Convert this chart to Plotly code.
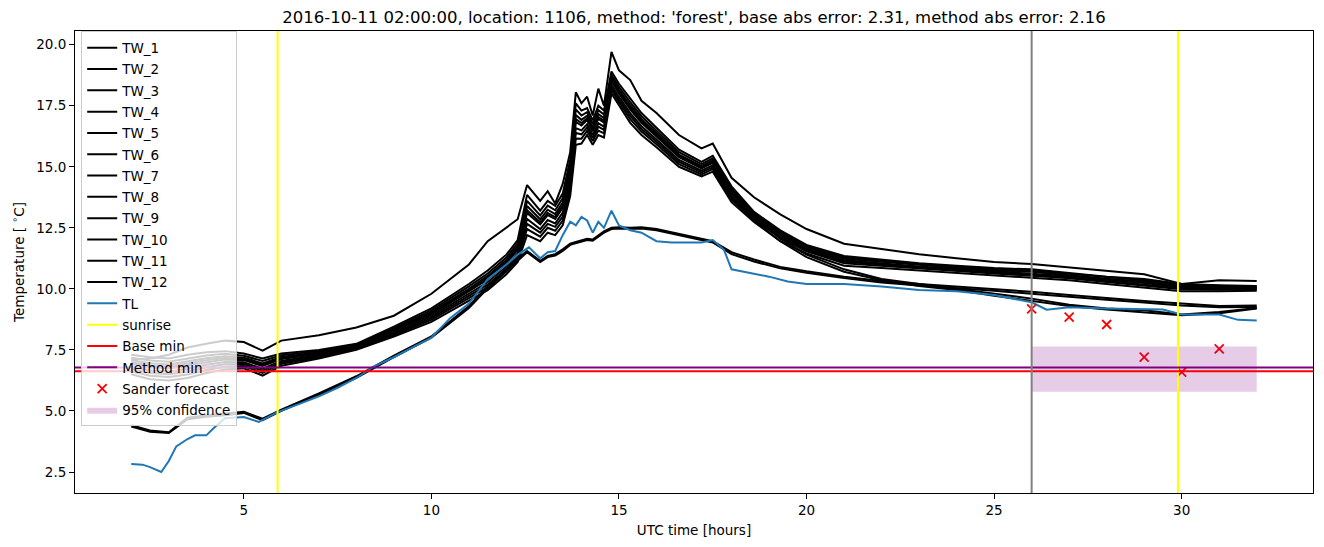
import plotly.graph_objects as go

# ---------------- data ----------------
hours = [2.0, 2.5, 3.0, 3.5, 4.0, 4.5, 5.0, 5.5, 6.0, 7.0, 8.0, 9.0, 10.0, 11.0, 11.5, 12.0,
         12.3, 12.55, 12.9, 13.1, 13.3, 13.5, 13.7, 13.85, 14.0, 14.15, 14.3, 14.45, 14.6,
         14.8, 15.0, 15.3, 15.6, 16.0, 16.6, 17.2, 17.5, 18.0, 18.6, 19.3, 20.0, 21.0, 22.0,
         23.0, 24.0, 25.0, 26.0, 27.0, 28.0, 29.0, 30.0, 31.0, 32.0]

tw_1 = [7.08, 6.95, 6.9, 7.03, 7.16, 7.24, 7.18, 6.95, 7.21, 7.4, 7.68, 8.34, 9.05, 10.0, 10.53, 11.18,
        11.75, 13.39, 12.85, 13.24, 13.06, 13.54, 14.88, 17.12, 16.92, 17.09, 16.62, 17.16, 16.99,
        18.65, 18.15, 17.52, 16.95, 16.38, 15.5, 15.03, 15.27, 14.02, 13.04, 12.27, 11.7, 11.23, 11.1,
        10.96, 10.86, 10.76, 10.7, 10.56, 10.41, 10.3, 10.11, 10.08, 10.06]
tw_2 = [6.82, 6.66, 6.61, 6.73, 6.89, 7.0, 6.99, 6.73, 7.05, 7.29, 7.6, 8.21, 8.87, 9.78, 10.27, 10.92,
        11.46, 12.86, 12.45, 12.82, 12.68, 13.12, 14.4, 16.58, 16.49, 16.74, 16.3, 16.78, 16.64,
        18.36, 17.86, 17.2, 16.66, 16.12, 15.28, 14.84, 15.06, 13.81, 12.9, 12.13, 11.59, 11.11, 10.99,
        10.87, 10.77, 10.67, 10.59, 10.47, 10.32, 10.19, 10.02, 10.0, 10.0]
tw_3 = [7.1, 7.15, 7.3, 7.6, 7.75, 7.88, 7.82, 7.47, 7.88, 8.1, 8.42, 8.9, 9.8, 11.0, 11.95, 12.5,
        12.85, 14.25, 13.6, 14.0, 13.5, 14.3, 15.6, 18.05, 17.6, 17.87, 17.1, 18.2, 17.5,
        19.7, 18.95, 18.55, 17.7, 17.2, 16.3, 15.75, 15.95, 14.55, 13.75, 13.05, 12.45, 11.85, 11.62,
        11.42, 11.25, 11.1, 11.02, 10.88, 10.74, 10.6, 10.2, 10.35, 10.32]
tw_4 = [7.3, 7.2, 7.15, 7.3, 7.4, 7.45, 7.35, 7.15, 7.35, 7.5, 7.75, 8.45, 9.2, 10.2, 10.75, 11.4,
        12.0, 13.85, 13.2, 13.6, 13.4, 13.9, 15.3, 17.6, 17.3, 17.4, 16.9, 17.5, 17.3,
        18.9, 18.4, 17.8, 17.2, 16.6, 15.7, 15.2, 15.45, 14.2, 13.15, 12.4, 11.8, 11.35, 11.2,
        11.05, 10.95, 10.85, 10.8, 10.65, 10.5, 10.4, 10.2, 10.15, 10.12]
tw_5 = [4.42, 4.2, 4.13, 4.72, 4.82, 4.88, 4.97, 4.68, 5.05, 5.72, 6.42, 7.27, 8.05, 9.3, 10.1, 10.8,
        11.25, 11.55, 11.15, 11.35, 11.42, 11.62, 11.85, 11.92, 12.0, 12.05, 12.02, 12.2, 12.35,
        12.5, 12.52, 12.5, 12.52, 12.45, 12.25, 12.02, 11.95, 11.5, 11.2, 10.9, 10.72, 10.5, 10.32,
        10.2, 10.1, 9.98, 9.88, 9.75, 9.62, 9.5, 9.4, 9.3, 9.32]
tw_6 = [7.18, 7.07, 7.02, 7.16, 7.27, 7.34, 7.26, 7.05, 7.28, 7.45, 7.71, 8.39, 9.12, 10.1, 10.63, 11.28,
        11.87, 13.6, 13.01, 13.41, 13.22, 13.71, 15.08, 17.35, 17.1, 17.24, 16.75, 17.32, 17.14,
        18.77, 18.27, 17.65, 17.07, 16.48, 15.6, 15.11, 15.35, 14.1, 13.09, 12.33, 11.75, 11.29, 11.15,
        11.01, 10.91, 10.81, 10.75, 10.61, 10.46, 10.35, 10.16, 10.11, 10.09]
tw_7 = [7.0, 6.86, 6.81, 6.94, 7.08, 7.17, 7.12, 6.88, 7.16, 7.37, 7.66, 8.3, 8.99, 9.93, 10.45, 11.1,
        11.66, 13.22, 12.73, 13.11, 12.94, 13.41, 14.73, 16.95, 16.79, 16.98, 16.52, 17.04, 16.88,
        18.56, 18.06, 17.42, 16.86, 16.3, 15.43, 14.97, 15.2, 13.95, 12.99, 12.05, 11.4, 10.8, 10.4,
        10.2, 10.0, 9.8, 9.6, 9.35, 9.2, 9.12, 8.95, 9.05, 9.22]
tw_8 = [6.94, 6.8, 6.75, 6.87, 7.02, 7.11, 7.08, 6.84, 7.13, 7.34, 7.64, 8.27, 8.95, 9.89, 10.39, 11.04,
        11.6, 13.11, 12.64, 13.02, 12.86, 13.32, 14.63, 16.84, 16.69, 16.91, 16.45, 16.96, 16.81,
        18.5, 18.0, 17.35, 16.8, 16.24, 15.39, 14.93, 15.16, 13.91, 12.97, 12.2, 11.64, 11.17, 11.04,
        10.92, 10.82, 10.72, 10.64, 10.52, 10.37, 10.24, 10.07, 10.04, 10.03]
tw_9 = [6.72, 6.55, 6.5, 6.62, 6.79, 6.91, 6.92, 6.65, 6.99, 7.25, 7.57, 8.16, 8.8, 9.7, 10.17, 10.82,
        11.35, 12.66, 12.3, 12.66, 12.54, 12.96, 14.22, 16.38, 16.33, 16.61, 16.18, 16.64, 16.51,
        18.25, 17.75, 17.08, 16.55, 16.02, 15.2, 14.77, 14.98, 13.73, 12.85, 12.08, 11.54, 11.05, 10.94,
        10.83, 10.73, 10.63, 10.54, 10.43, 10.28, 10.14, 9.98, 9.96, 9.97]
tw_10 = [4.36, 4.15, 4.1, 4.66, 4.76, 4.82, 4.92, 4.62, 5.0, 5.66, 6.36, 7.2, 8.0, 9.22, 10.02, 10.72,
         11.18, 11.5, 11.1, 11.3, 11.36, 11.55, 11.8, 11.86, 11.95, 12.0, 11.97, 12.14, 12.3,
         12.45, 12.47, 12.46, 12.47, 12.4, 12.2, 11.98, 11.9, 11.42, 11.12, 10.84, 10.66, 10.44, 10.26,
         10.14, 10.04, 9.92, 9.8, 9.66, 9.55, 9.44, 9.32, 9.25, 9.26]
tw_11 = [6.5, 6.3, 6.25, 6.35, 6.55, 6.7, 6.75, 6.45, 6.85, 7.15, 7.5, 8.05, 8.65, 9.5, 9.95, 10.6,
         11.1, 12.2, 11.95, 12.3, 12.2, 12.6, 13.8, 15.9, 15.95, 16.3, 15.9, 16.3, 16.2,
         18.0, 17.5, 16.8, 16.3, 15.8, 15.0, 14.6, 14.8, 13.55, 12.74, 11.95, 11.45, 10.95, 10.85,
         10.75, 10.65, 10.55, 10.45, 10.35, 10.2, 10.05, 9.9, 9.9, 9.92]
tw_12 = [6.62, 6.44, 6.39, 6.49, 6.68, 6.81, 6.84, 6.56, 6.93, 7.2, 7.54, 8.11, 8.73, 9.61, 10.07, 10.72,
         11.24, 12.45, 12.14, 12.5, 12.38, 12.8, 14.03, 16.16, 16.15, 16.47, 16.05, 16.48, 16.37,
         18.14, 17.64, 16.95, 16.44, 15.92, 15.11, 14.69, 14.9, 13.65, 12.8, 11.95, 11.3, 10.7, 10.35,
         10.12, 9.95, 9.72, 9.5, 9.3, 9.15, 9.05, 8.92, 9.0, 9.2]

tl_hours = [2.0, 2.3, 2.5, 2.8, 3.0, 3.2, 3.5, 3.7, 4.0, 4.2, 4.5, 5.0, 5.4, 5.9, 6.5, 7.0, 7.5, 8.0,
            8.5, 9.0, 9.5, 10.0, 10.5, 11.0, 11.5, 12.0, 12.3, 12.6, 12.9, 13.1, 13.3, 13.5, 13.7,
            13.85, 14.0, 14.15, 14.3, 14.45, 14.6, 14.8, 15.0, 15.3, 15.6, 16.0, 16.4, 16.8, 17.2,
            17.5, 17.8, 18.0, 18.5, 19.0, 19.5, 20.0, 21.0, 22.0, 23.0, 24.0, 25.0, 25.5, 26.0,
            26.4, 27.0, 28.0, 29.0, 29.5, 30.0, 31.0, 31.5, 32.0]
tl = [2.83, 2.8, 2.7, 2.5, 2.95, 3.55, 3.85, 4.0, 4.0, 4.3, 4.7, 4.75, 4.55, 4.95, 5.3, 5.6, 5.95,
      6.35, 6.85, 7.2, 7.6, 8.0, 8.8, 9.4, 10.4, 11.0, 11.4, 11.7, 11.25, 11.5, 11.55, 12.2, 12.75,
      12.6, 12.95, 12.8, 12.3, 12.75, 12.5, 13.2, 12.6, 12.4, 12.3, 11.95, 11.9, 11.9, 11.9, 12.0,
      11.6, 10.8, 10.65, 10.5, 10.3, 10.2, 10.2, 10.1, 9.95, 9.9, 9.75, 9.6, 9.45, 9.15, 9.25,
      9.2, 9.15, 9.15, 8.95, 8.95, 8.73, 8.7]

sunrise = [5.9, 29.9]
forecast_start = 26.0
base_min = 6.63
method_min = 6.78
sander_hours = [26, 27, 28, 29, 30, 31]
sander_forecast = [9.18, 8.84, 8.54, 7.2, 6.59, 7.54]
conf_hours = [26, 32]
conf_low = 5.79
conf_high = 7.64

title = ("2016-10-11 02:00:00, location: 1106, method: 'forest', "
         "base abs error: 2.31, method abs error: 2.16")

# ---------------- figure ----------------
FONT = "DejaVu Sans"
fig = go.Figure()

tw_series = [tw_1, tw_2, tw_3, tw_4, tw_5, tw_6, tw_7, tw_8, tw_9, tw_10, tw_11, tw_12]
for i, ys in enumerate(tw_series, start=1):
    fig.add_trace(go.Scatter(x=hours, y=ys, mode="lines", name=f"TW_{i}",
                             line=dict(color="black", width=2), legendgroup=f"g{i}"))

fig.add_trace(go.Scatter(x=tl_hours, y=tl, mode="lines", name="TL",
                         line=dict(color="#1f77b4", width=2), legendgroup="gTL"))

# legend-only entries for the reference lines (lines themselves are shapes)
fig.add_trace(go.Scatter(x=[None], y=[None], mode="lines", name="sunrise",
                         line=dict(color="yellow", width=2), legendgroup="gsun"))
fig.add_trace(go.Scatter(x=[None], y=[None], mode="lines", name="Base min",
                         line=dict(color="red", width=2), legendgroup="gbase"))
fig.add_trace(go.Scatter(x=[None], y=[None], mode="lines", name="Method min",
                         line=dict(color="purple", width=2), legendgroup="gmeth"))

fig.add_trace(go.Scatter(x=sander_hours, y=sander_forecast, mode="markers", name="Sander forecast",
                         marker=dict(symbol="x-thin", size=9, color="red",
                                     line=dict(color="red", width=1.8)),
                         legendgroup="gsander"))

fig.add_trace(go.Scatter(
    x=[conf_hours[0], conf_hours[1], conf_hours[1], conf_hours[0], conf_hours[0]],
    y=[conf_low, conf_low, conf_high, conf_high, conf_low],
    mode="lines", fill="toself", fillcolor="rgba(128,0,128,0.2)",
    line=dict(width=0, color="rgba(128,0,128,0)"), name="95% confidence",
    legendgroup="gconf"))

shapes = []
for s in sunrise:
    shapes.append(dict(type="line", xref="x", yref="y domain", x0=s, x1=s, y0=0, y1=1,
                       line=dict(color="yellow", width=2), layer="above"))
shapes.append(dict(type="line", xref="x domain", yref="y", x0=0, x1=1, y0=base_min, y1=base_min,
                   line=dict(color="red", width=2), layer="above"))
shapes.append(dict(type="line", xref="x domain", yref="y", x0=0, x1=1, y0=method_min, y1=method_min,
                   line=dict(color="purple", width=2), layer="above"))
shapes.append(dict(type="line", xref="x", yref="y domain", x0=forecast_start, x1=forecast_start,
                   y0=0, y1=1, line=dict(color="grey", width=2), layer="above"))

fig.update_layout(
    width=1324, height=547,
    margin=dict(l=75, r=11, t=31, b=54),
    paper_bgcolor="white", plot_bgcolor="white",
    font=dict(family=FONT, size=13.5, color="black"),
    title=dict(text=title, x=0.5, xref="paper", y=1 - 17 / 547, yref="container",
               xanchor="center", yanchor="middle", font=dict(size=16.5, family=FONT)),
    shapes=shapes,
    showlegend=True,
    legend=dict(x=0.005, y=0.999, xanchor="left", yanchor="top",
                bgcolor="rgba(255,255,255,0.8)", bordercolor="#cccccc", borderwidth=1,
                font=dict(size=13.5, family=FONT), tracegroupgap=0.75, traceorder="grouped"),
)

fig.update_xaxes(range=[0.5, 33.5], tickvals=[5, 10, 15, 20, 25, 30],
                 showline=True, mirror=True, linecolor="black", linewidth=1,
                 ticks="outside", ticklen=5, tickcolor="black", showgrid=False, zeroline=False,
                 title=dict(text="UTC time [hours]", standoff=8, font=dict(size=13.5)))
fig.update_yaxes(range=[1.64, 20.56], tick0=0, dtick=2.5, tickformat=".1f",
                 showline=True, mirror=True, linecolor="black", linewidth=1,
                 ticks="outside", ticklen=5, tickcolor="black", showgrid=False, zeroline=False,
                 title=dict(text="Temperature [ <sup>∘</sup>C]", standoff=8, font=dict(size=13.5)))

fig.write_html("out.html")
